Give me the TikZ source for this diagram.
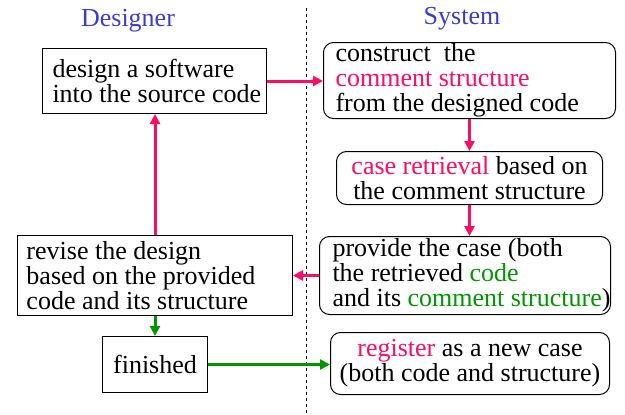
\documentclass[tikz,border=0pt]{standalone}
\usepackage{fontspec}
\setmainfont{Liberation Serif}
\usetikzlibrary{arrows.meta}
\definecolor{hot}{RGB}{255,10,100}
\definecolor{grn}{RGB}{0,150,0}
\definecolor{hdr}{RGB}{60,60,210}
\tikzset{
  txt/.style={font=\fontsize{26}{25}\selectfont},
  box/.style={txt, draw, line width=1pt, anchor=north west, inner ysep=0pt,
    text width={#1}, minimum height=10pt},
  lbox/.style={box={#1}, align=flush left},
  cbox/.style={box={#1}, align=flush center},
  rbox/.style={rounded corners=10pt},
  hotarrow/.style={draw=hot, line width=3pt, -{Triangle[length=10pt,width=10pt]}},
  grnarrow/.style={draw=grn, line width=3pt, -{Triangle[length=10pt,width=10pt]}},
  lane/.style={hdr, font=\fontsize{26}{25}\selectfont},
}
\begin{document}
\begin{tikzpicture}[x=1pt, y=-1pt]
\useasboundingbox (0,0) rectangle (625,415);

% lane titles and divider
\node[lane] (tdes) at (128,21) {Designer};
\node[lane] (tsys) at (462,19) {System};
\coordinate (dtop) at (306,8);
\coordinate (dbot) at (306,414);
\draw[line width=0.8pt, dash pattern=on 3pt off 3pt] (dtop) -- (dbot);

% designer side (long lines are kept whole with \mbox)
\node[lbox=204pt, inner xsep=10pt, minimum height=65pt] (design) at (42,48)
  {\mbox{design a software}\\\mbox{into the source code}};
\node[lbox=257pt, inner xsep=9pt, minimum height=80pt] (revise) at (17,235)
  {\mbox{revise the design}\\\mbox{based on the provided}\\\mbox{code and its structure}};
\node[cbox=85pt, inner xsep=10pt, minimum height=56pt] (fin) at (102,336)
  {finished};

% system side
\node[lbox=268pt, inner xsep=12pt, minimum height=76pt, rbox] (construct) at (323,42)
  {\mbox{construct\ \ the}\\\mbox{\textcolor{hot}{comment structure}}\\\mbox{from the designed code}};
\node[cbox=250pt, inner xsep=8pt, minimum height=53pt, rbox] (retr) at (336,151)
  {\mbox{\textcolor{hot}{case retrieval} based on}\\\mbox{the comment structure}};
\node[lbox=265pt, inner xsep=13pt, minimum height=78pt, rbox] (prov) at (319,236)
  {\mbox{provide the case (both}\\\mbox{the retrieved \textcolor{grn}{code}}\\\mbox{and its \textcolor{grn}{comment structure})}};
\node[cbox=263pt, inner xsep=8pt, minimum height=62pt, rbox] (reg) at (330,332)
  {\mbox{\textcolor{hot}{register} as a new case}\\\mbox{(both code and structure)}};

% flow
\draw[hotarrow] (design.east) -- (construct.west |- design.east);
\draw[hotarrow] (construct.south) -- (construct.south |- retr.north);
\draw[hotarrow] (retr.south) -- (retr.south |- prov.north);
\draw[hotarrow] (prov.west) -- (revise.east |- prov.west);
\draw[hotarrow] (revise.north) -- (revise.north |- design.south);
\draw[grnarrow] (revise.south) -- (revise.south |- fin.north);
\draw[grnarrow] (fin.east) -- (reg.west |- fin.east);
\end{tikzpicture}
\end{document}
